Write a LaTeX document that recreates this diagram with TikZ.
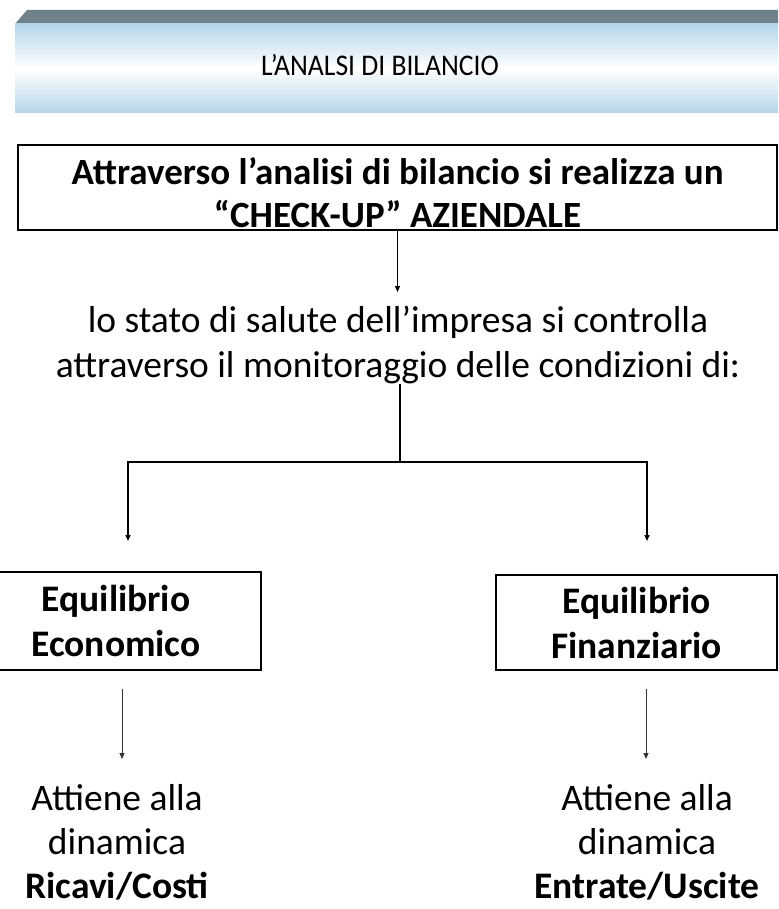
\documentclass[tikz,border=0pt]{standalone}
\usepackage{fontspec}
\setmainfont{Carlito}
\newfontfamily\headfont[FakeStretch=0.92]{Carlito}
\usetikzlibrary{arrows.meta}
\definecolor{banddark}{HTML}{6F828C}
\definecolor{bandblue}{HTML}{B5D6EA}
\tikzset{
  boxframe/.style={draw=black, line width=1.4pt, inner sep=0pt, align=center,
    font=\bfseries\fontsize{37.5}{45}\selectfont},
  txt/.style={inner sep=0pt, align=center},
  conn/.style={line width=1.3pt, -{Triangle[length=6pt,width=5pt]}},
  thinconn/.style={line width=0.9pt, draw=black!80, -{Triangle[length=6pt,width=5pt]}},
  trunk/.style={line width=2pt},
  bodyfont/.style={font=\fontsize{37.5}{45}\selectfont},
  lowfont/.style={font=\fontsize{37.5}{44}\selectfont},
  topfont/.style={font=\bfseries\fontsize{37}{43}\selectfont},
}
\begin{document}
\begin{tikzpicture}[x=1pt,y=-1pt]
\useasboundingbox (0,0) rectangle (778,909);
\fill[white] (0,0) rectangle (778,909);
% header band
\fill[banddark] (27,10) -- (778,10) -- (778,24) -- (15,24) -- cycle;
\shade[top color=bandblue, bottom color=bandblue, middle color=white] (15,24) rectangle (778,113);
\node[txt, anchor=base, font=\headfont\fontsize{30}{36}\selectfont] (title) at (380,76) {L’ANALSI DI BILANCIO};
% top box
\node[draw=black, line width=1.4pt, inner sep=0pt, minimum width=759pt, minimum height=85pt] (topbox) at (397.5,187.5) {};
\node[txt, anchor=base, topfont] (top1) at (397.5,185) {Attraverso l’analisi di bilancio si realizza un};
\node[txt, anchor=base, topfont] (top2) at (397.5,228) {“CHECK-UP” AZIENDALE};
\draw[line width=2.2pt] ([yshift=-2pt]top2.base west) -- ([yshift=-2pt]top2.base east);
% arrow to middle text
\coordinate (a1) at (397.5,292);
\draw[conn, line width=1pt] (topbox.south) -- (a1);
% middle text (base anchor = baseline of last line)
\node[txt, bodyfont, anchor=base] (mid) at (398,377) {lo stato di salute dell’impresa si controlla\\attraverso il monitoraggio delle condizioni di:};
% trunk and branches
\coordinate (j) at (400,462);
\coordinate (al) at (128,541);
\coordinate (ar) at (647,541);
\draw[trunk] (mid.south -| j) -- (j);
\draw[conn] (j) -| (al);
\draw[conn] (j) -| (ar);
% boxes
\node[boxframe, minimum width=290pt, minimum height=98pt] (lbox) at (116,621) {Equilibrio\\Economico};
\node[boxframe, minimum width=281pt, minimum height=95pt] (rbox) at (636.5,622.5) {Equilibrio\\Finanziario};
% lower arrows
\coordinate (bl) at (122,759);
\coordinate (br) at (646,759);
\draw[thinconn, shorten <=18pt] (lbox.south -| bl) -- (bl);
\draw[thinconn, shorten <=18pt] (rbox.south -| br) -- (br);
% bottom texts
\node[txt, lowfont, anchor=base] (ltxt) at (117,898) {Attiene alla\\dinamica\\\textbf{Ricavi/Costi}};
\node[txt, lowfont, anchor=base] (rtxt) at (647,898) {Attiene alla\\dinamica\\\textbf{Entrate/Uscite}};
\end{tikzpicture}
\end{document}
